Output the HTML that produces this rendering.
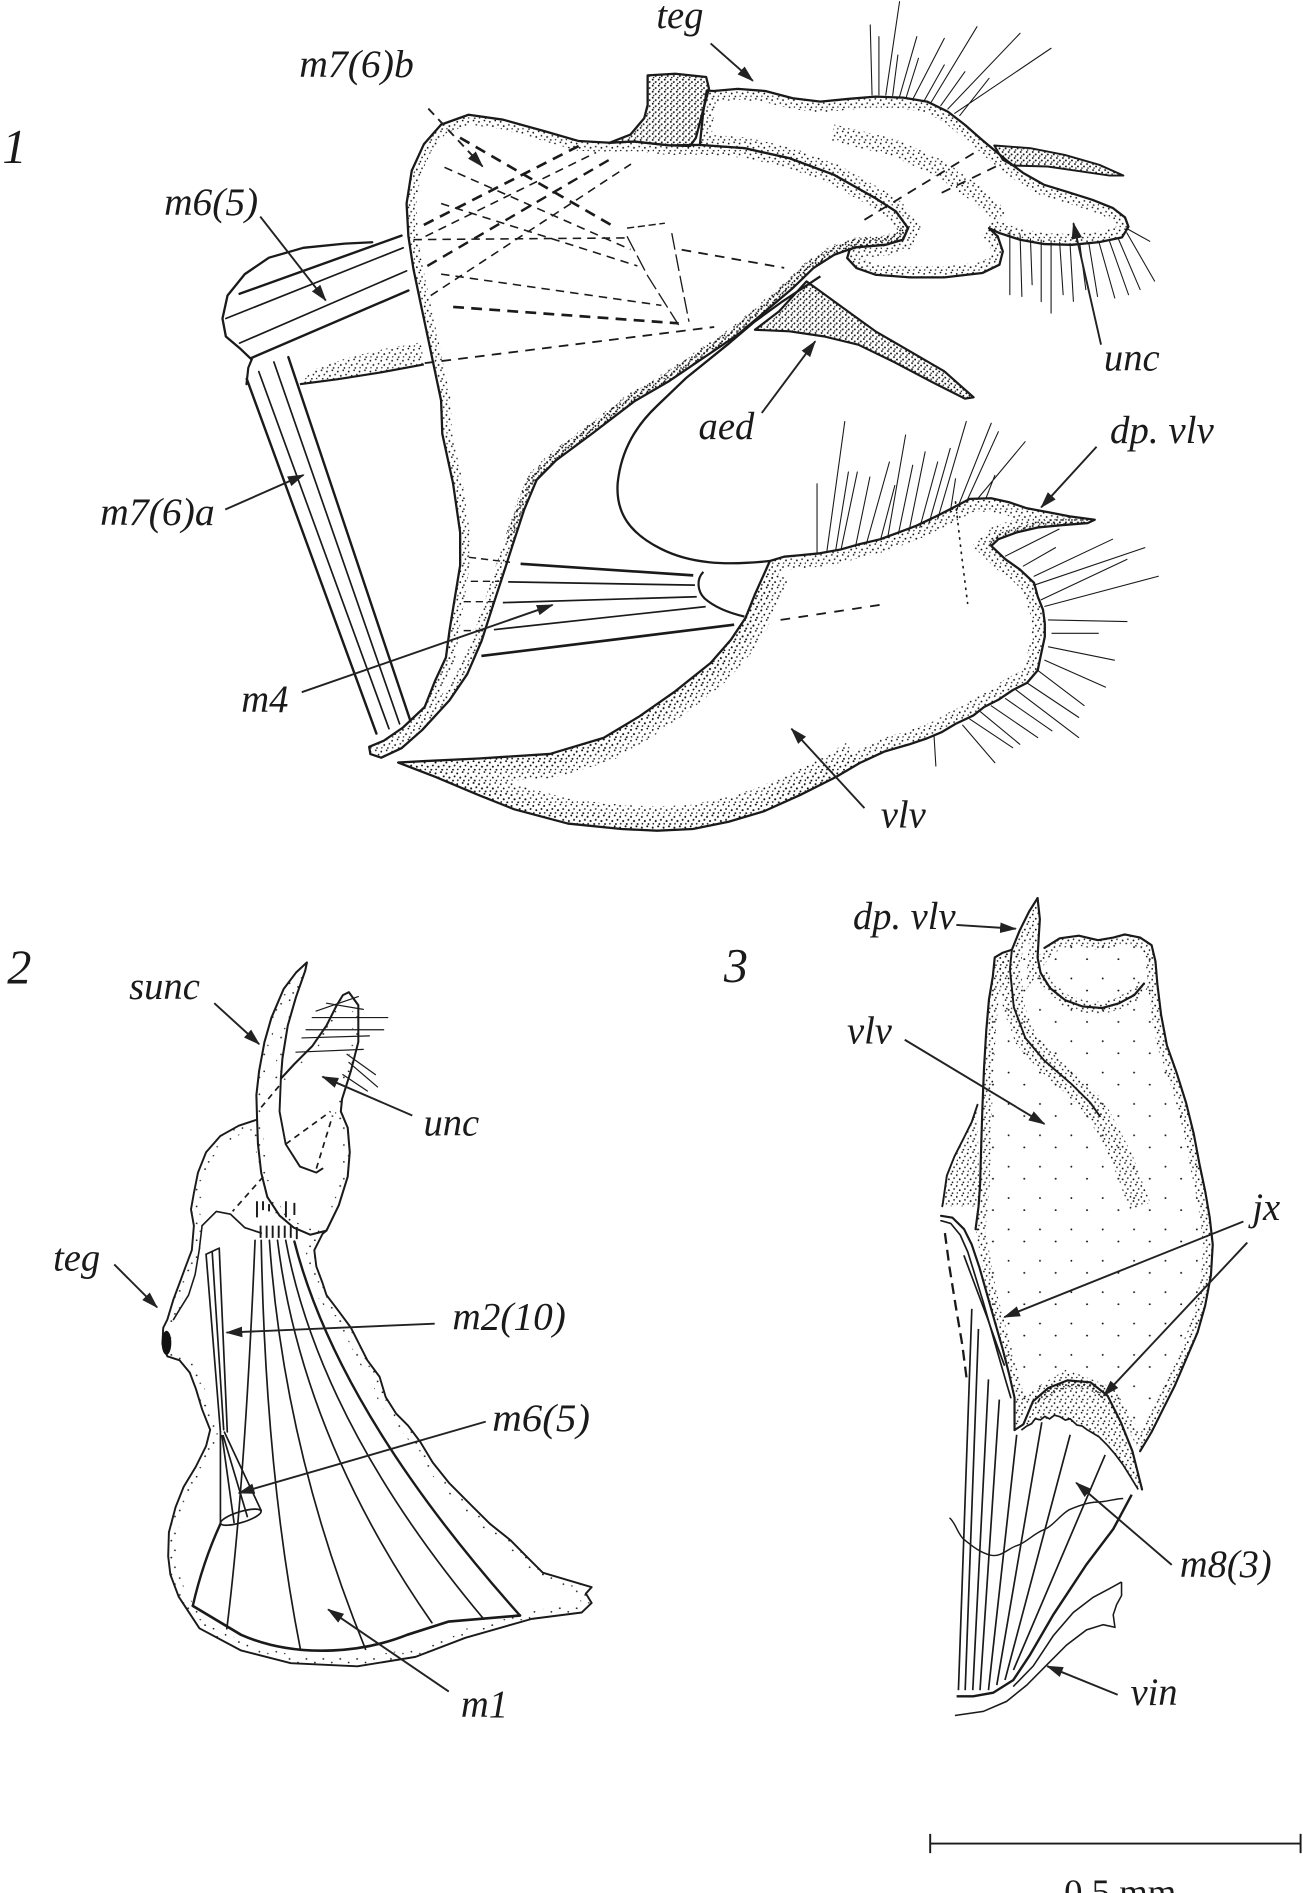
<!DOCTYPE html>
<html><head><meta charset="utf-8"><style>
html,body{margin:0;padding:0;background:#fff;}
svg{display:block;}
text{font-family:"Liberation Serif","DejaVu Serif",serif;font-style:italic;fill:#1a1a1a;}
</style></head><body>
<svg width="1303" height="1893" viewBox="0 0 1080 1569" preserveAspectRatio="none" xmlns="http://www.w3.org/2000/svg">
<defs>
<pattern id="st" width="9" height="9" patternUnits="userSpaceOnUse"><g fill="#111"><circle cx="1" cy="2" r=".75"/><circle cx="5.5" cy=".9" r=".7"/><circle cx="3.5" cy="5.5" r=".75"/><circle cx="7.8" cy="4.5" r=".7"/><circle cx="6.5" cy="8" r=".7"/><circle cx="1.5" cy="7.8" r=".6"/></g></pattern>
<pattern id="sd" width="5" height="5" patternUnits="userSpaceOnUse"><g fill="#111"><circle cx="1" cy="1" r=".8"/><circle cx="3.5" cy="3" r=".8"/><circle cx="1.8" cy="4.3" r=".6"/></g></pattern>
<pattern id="ss" width="14" height="14" patternUnits="userSpaceOnUse"><g fill="#111"><circle cx="2" cy="3" r=".75"/><circle cx="9" cy="6" r=".7"/><circle cx="5" cy="11" r=".7"/><circle cx="12" cy="12.5" r=".6"/></g></pattern>
<pattern id="sx" width="26" height="26" patternUnits="userSpaceOnUse"><g fill="#111"><circle cx="4" cy="5" r=".8"/><circle cx="17" cy="15" r=".8"/></g></pattern>
<marker id="ah" markerUnits="userSpaceOnUse" markerWidth="14" markerHeight="10" refX="13" refY="5" orient="auto" viewBox="0 0 14 10"><path d="M0,0.6 L14,5 L0,9.4 Z" fill="#222"/></marker>

<path id="scl" d="M365.6,103.3 L388.4,95.1 417,99.2 451.2,108.7 479.7,116.9 505.4,118.3 525.8,117.3 554.4,120.5 580.1,120.1 617.2,122.8 654.3,131.1 691.4,144.9 725.6,164.2 742.7,175.3 752.7,189.1 748.4,198.7 734.2,202.9 708.5,205.1 691.4,211.2 674.2,222.2 657.1,238.8 634.3,258.1 611.5,277.4 582.9,296.7 554.4,316 525.8,332.6 490.5,359.6 461,381.4 444.8,397.8 434.5,422.3 425.6,449.6 416.8,476.9 407.9,504.1 399.1,531.4 387.3,558.7 372.5,580.5 350,605 333,620 316,628 307,625 306,619 318,614 334,603 352,586 360.7,564.1 369.6,545 372.5,523.2 376.9,496 381.4,468.7 381.4,441.4 375.5,400.5 366.6,359.6 365.6,332 359.9,304.8 354.2,277.6 348.4,250.3 342.7,223.1 338.5,195.9 337,168.7 341.3,141.4 351.3,119.6 Z"/>
<clipPath id="cscl"><use href="#scl"/></clipPath>

<path id="teg" d="M591.5,75.4 L611.5,73.7 634.3,75.4 657.1,81.4 680,84.2 702.8,82 725.6,80.1 748.5,80.9 768.4,84.2 785.6,92.5 799.8,103.5 814.1,116 825.5,125.6 835.5,133.9 848.3,143.5 865.5,153.2 885.4,159.3 905.4,165.6 922.5,172.5 932.5,180.2 935.3,188 930,196.7 911.1,200.7 888.3,202.9 865.5,202.3 845.5,198.7 828.4,193.2 819.8,189.1 827,196 831.2,208.4 828.4,219.4 814.1,226.3 782.7,229.9 754.2,229.9 725.6,227.7 709.9,222.2 702.2,213.9 704.2,207 708.5,205.1 734.2,202.9 748.4,198.7 752.7,189.1 742.7,175.3 725.6,164.2 691.4,144.9 654.3,131.1 617.2,122.8 580.1,120.1 582.9,92.5 585.8,75 Z"/>
<clipPath id="cteg"><use href="#teg"/></clipPath>

<path id="knob" d="M505.4,118.3 L522.6,111.5 534,97.9 536.8,87 536.8,62.5 559.7,61.1 585.3,63.8 587.6,73.3 582.5,92.4 576.8,114.2 572,121 554.4,120.5 525.8,117.3 Z"/>
<path id="soc" d="M824.1,120.6 L854.1,122.8 882.6,128.4 911.1,136.6 931.1,145.5 919.7,145.5 896.9,142.2 868.3,138 839.8,137.2 831.2,132.5 Z"/>
<path id="aeds" d="M625.7,273.3 L645.7,258.1 668.5,233.2 680,241.5 702.8,258.1 725.6,274.6 754.2,291.2 782.7,307.8 807,329.3 799.8,330.4 771.3,316 739.9,299.5 711.4,285.7 682.8,278.8 654.3,274.6 Z"/>

<path id="vlv" d="M638.1,465 L649.9,461.4 661.8,460.3 679.5,458.6 697.3,455.3 712.1,451.1 729.8,446.9 744.6,441.4 759.4,435.8 774.2,428.8 789,421.3 803.8,413.5 821.6,413 836.4,416.3 851.2,421.3 869,424.6 886.7,428 907.4,430.8 901.5,433.6 880.8,435.2 860.1,437.2 842.3,441.4 827.5,446.9 821.6,452.5 833.4,463.6 845.3,472 857.1,483.1 860.1,494.3 864.5,505.4 866,516.6 866,527.7 863,541.7 860.1,555.6 851.2,566 839.4,572 827.5,580 815.7,586 806.8,593 792,600 780.2,607 768.3,612 753.5,617 732.8,623 712.8,632.3 692.7,644.1 663.1,659 633.5,672.3 603.9,681.1 574.3,687.1 544.7,688.5 515.1,687.1 470.7,682.6 426.3,670.8 396.7,659 361,644 330,632 352.3,630.8 396.7,628.7 455.9,624.9 500.3,611.6 529.9,593.8 559.5,573.1 589.1,549.4 606,530 618,512 626,492 635,472 Z"/>
<clipPath id="cvlv"><use href="#vlv"/></clipPath>

<path id="f2b" d="M213.1,928 L197.9,933 182.7,941.5 170.8,955 164.1,971.9 160.7,988.9 158.3,1002.4 160.7,1015.9 159,1036.2 153.9,1049.7 148.9,1063.3 143.8,1076.8 138.7,1093.7 135.3,1100.5 134.6,1114 138.7,1124.2 148.9,1127.5 157.3,1137.7 162.4,1151.2 167.5,1168.1 174.2,1185.1 170.8,1198.6 162.4,1215.5 152.2,1232.4 145.5,1249.3 140,1270 139.4,1289.9 141.2,1305 148.1,1323.4 165.3,1349.6 199.8,1368 241.1,1378.5 296.2,1381.1 344.4,1373.3 385.7,1357.5 440.8,1341.8 482.2,1336.5 490.4,1328.6 485.6,1320.8 490.4,1315.5 449.9,1303.5 436.4,1290 422.9,1276.4 406,1262.9 389,1246 372.1,1229 358.6,1212.1 348.4,1195.2 338.3,1181.7 328.2,1171.5 319.7,1158 314.6,1141.1 304.5,1127.5 297.7,1114 290.9,1100.5 280.8,1086.9 270.6,1073.4 267.3,1063.3 262.2,1049.7 260.5,1036.2 267.3,1022.7 270.6,1020"/>
<path id="f2bc" d="M213.1,928 L197.9,933 182.7,941.5 170.8,955 164.1,971.9 160.7,988.9 158.3,1002.4 160.7,1015.9 159,1036.2 153.9,1049.7 148.9,1063.3 143.8,1076.8 138.7,1093.7 135.3,1100.5 134.6,1114 138.7,1124.2 148.9,1127.5 157.3,1137.7 162.4,1151.2 167.5,1168.1 174.2,1185.1 170.8,1198.6 162.4,1215.5 152.2,1232.4 145.5,1249.3 140,1270 139.4,1289.9 141.2,1305 148.1,1323.4 165.3,1349.6 199.8,1368 241.1,1378.5 296.2,1381.1 344.4,1373.3 385.7,1357.5 440.8,1341.8 482.2,1336.5 490.4,1328.6 485.6,1320.8 490.4,1315.5 449.9,1303.5 436.4,1290 422.9,1276.4 406,1262.9 389,1246 372.1,1229 358.6,1212.1 348.4,1195.2 338.3,1181.7 328.2,1171.5 319.7,1158 314.6,1141.1 304.5,1127.5 297.7,1114 290.9,1100.5 280.8,1086.9 270.6,1073.4 267.3,1063.3 262.2,1049.7 260.5,1036.2 267.3,1022.7 270.6,1020 230,1000 Z"/>
<clipPath id="cf2b"><use href="#f2bc"/></clipPath>

<path id="f2u" d="M289.2,822.4 L297,833.2 297,863.7 290.9,887.4 283.5,911 282.5,921.2 288.2,934.7 289.9,955 288.2,975.3 280.8,999 270.6,1020 257.1,1023.4 243.6,1017.6 231.7,1007.5 221.6,992.2 216.5,972 213.8,948.2 213.1,928 212.5,907.7 214.8,887.4 219.2,863.7 225,843.4 235.1,819.7 245.3,806.2 254.4,797.7 253,804.5 245.3,826.5 238.5,850.1 234.1,877.2 232.8,894.1 243.6,882.3 258.8,867.1 270.6,850.1 279.1,833.2 284.2,824.8 Z"/>
<clipPath id="cf2u"><use href="#f2u"/></clipPath>

<path id="f3c" d="M860,744.4 L853,755.5 845.1,771.4 838.7,787.2 830.8,789.8 824.5,793.6 822.9,809.4 819.7,828.5 817.5,853.8 815.6,885.6 814.3,917.3 813.3,949 812.4,980.7 811.1,999.8 808.6,1018.8 818,1072 830,1117 840.9,1158 840.9,1185 856,1161 884.7,1144 918,1157 945,1202.8 954.5,1186.9 964,1167.9 973.6,1148.8 983.1,1126.6 992.6,1104.4 998.9,1082.2 1003.7,1056.9 1005.2,1031.5 1002.7,1009.3 998.9,987.1 994.2,964.9 989.4,939.5 983.1,914.1 975.1,888.7 967.2,866.5 962.4,841.2 959.3,815.8 957.7,796.8 954.5,783.4 945,777.1 932.3,774.5 922.8,777.1 910.1,779.3 894.2,775.5 878.4,777.7 865.7,785.7 860,793.6 860.9,777.7 861.9,761.9 Z"/>
<clipPath id="cf3"><use href="#f3c"/></clipPath>
<path id="f3bulge" d="M810.2,915.7 L805.4,930 799.1,942.7 791.1,958.5 784.8,974.4 781.6,996.6 781,999.8 L812,1000 Z"/>
<clipPath id="cf3b"><use href="#f3bulge"/></clipPath>
<path id="hump" d="M846.6,1185.3 L848.2,1180.6 856.2,1161.5 868.9,1150.4 884.7,1144.1 903.8,1145.7 918,1156.8 929.1,1179 938.6,1202.8 946.6,1234.5 L943.4,1234.5 930.7,1213.9 918,1198 905.3,1187.5 892.7,1181.2 878.4,1174.2 862.5,1176.8 Z"/>
<clipPath id="chump"><use href="#hump"/></clipPath>
</defs>

<rect width="1080" height="1569" fill="#fff"/>

<!-- ================= FIGURE 1 ================= -->
<g fill="none" stroke="#1a1a1a" stroke-linecap="round" stroke-linejoin="round">
 <path d="M208.6,298 L198.6,288.5 187.2,278.9 184.4,264 188.6,244.9 202.9,227.2 222.9,213.6 251.4,205.4 285.7,201.9 308.5,200.8" stroke-width="1.9"/>
 <path d="M198.6,243.5 L332.8,195.3" stroke-width="2"/>
 <path d="M187.2,264 L334.2,205.4" stroke-width="1.4"/>
 <path d="M198.6,284.4 L337,224.5" stroke-width="1.4"/>
 <path d="M208.6,296.6 L338.5,240.8" stroke-width="2"/>
 <path d="M208.6,298 L205.8,304.8 204.3,318.4" stroke-width="1.8"/>
 <path d="M204.5,314 L312,608" stroke-width="2"/>
 <path d="M214.5,308 L322.4,604" stroke-width="1.4"/>
 <path d="M227,300 L331.2,600" stroke-width="1.4"/>
 <path d="M239,296 L340,597" stroke-width="2"/>
</g>
<path d="M248.6,318.4 L280,314.3 314.2,308.9 351.3,302.1 349,284 320,289 290,296 260,306 Z" fill="url(#st)"/>
<path d="M248.6,318.4 L280,314.3 314.2,308.9 351.3,302.1" fill="none" stroke="#1a1a1a" stroke-width="1.8"/>

<use href="#scl" fill="#fff"/>
<g clip-path="url(#cscl)">
 <use href="#scl" fill="none" stroke="url(#st)" stroke-width="16"/>
 <path d="M752.7,189.1 L748.4,198.7 734.2,202.9 708.5,205.1 691.4,211.2 674.2,222.2 657.1,238.8 634.3,258.1 611.5,277.4 582.9,296.7 554.4,316 525.8,332.6 490.5,359.6 461,381.4 444.8,397.8 434.5,422.3 425.6,449.6" fill="none" stroke="url(#sd)" stroke-width="14"/>
</g>
<use href="#scl" fill="none" stroke="#1a1a1a" stroke-width="1.9" stroke-linejoin="round"/>

<use href="#teg" fill="#fff"/>
<g clip-path="url(#cteg)"><use href="#teg" fill="none" stroke="url(#st)" stroke-width="18"/></g>
<path d="M690,110 L740,122 780,140 808,160 830,180" fill="none" stroke="url(#st)" stroke-width="14" clip-path="url(#cteg)"/>
<use href="#teg" fill="none" stroke="#1a1a1a" stroke-width="1.9" stroke-linejoin="round"/>
<use href="#knob" fill="url(#sd)" stroke="#1a1a1a" stroke-width="1.9" stroke-linejoin="round"/>
<use href="#soc" fill="url(#sd)" stroke="#1a1a1a" stroke-width="1.6" stroke-linejoin="round"/>
<g fill="none" stroke="#1a1a1a" stroke-width="1.5" stroke-dasharray="8 6">
 <path d="M807,127 L714.2,183.6"/>
 <path d="M825.5,138 L777,161.5"/>
</g>

<g fill="none" stroke="#1a1a1a" stroke-linecap="butt">
 <path d="M381.3,114.2 L511.1,189.1" stroke-width="2.2" stroke-dasharray="9 6"/>
 <path d="M368.4,138.7 L522.6,206.8" stroke-width="1.3" stroke-dasharray="7 5"/>
 <path d="M365.6,168.7 L528.3,220.4" stroke-width="1.3" stroke-dasharray="7 5"/>
 <path d="M342.7,198.6 L519.7,197.2" stroke-width="1.3" stroke-dasharray="7 5"/>
 <path d="M365.6,227.2 L548.2,253.1" stroke-width="1.3" stroke-dasharray="7 5"/>
 <path d="M375.6,254.4 L562.5,268" stroke-width="2.2" stroke-dasharray="9 6"/>
 <path d="M352,301 L592,271" stroke-width="1.5" stroke-dasharray="8 6"/>
 <path d="M351.3,186.4 L479.7,121" stroke-width="2.2" stroke-dasharray="9 6"/>
 <path d="M352.7,195.9 L494,126.4" stroke-width="1.3" stroke-dasharray="7 5"/>
 <path d="M354.2,220.4 L508.3,130.5" stroke-width="2" stroke-dasharray="9 6"/>
 <path d="M357,245 L523,136" stroke-width="1.3" stroke-dasharray="7 5"/>
 <path d="M519.7,189.1 L551.1,185" stroke-width="1.2" stroke-dasharray="6 3"/>
 <path d="M519.7,195.9 L536.8,228.6 562.5,269.4" stroke-width="1.1" stroke-dasharray="14 4"/>
 <path d="M556.8,193.2 L562.5,223.1 571.1,266.7" stroke-width="1.1" stroke-dasharray="14 4"/>
 <path d="M565,207 L650,222" stroke-width="1.5" stroke-dasharray="8 6"/>
</g>

<path d="M680,229 L648.6,249.8 625.7,266.4 602.9,285.7 568.7,313.3 545,336 C528,352 515,372 512,400 C510,425 522,442 548,455 C572,467 600,469 638,465" fill="none" stroke="#1a1a1a" stroke-width="1.9"/>
<use href="#aeds" fill="url(#sd)" stroke="#1a1a1a" stroke-width="1.8" stroke-linejoin="round"/>

<use href="#vlv" fill="#fff"/>
<g clip-path="url(#cvlv)">
 <use href="#vlv" fill="none" stroke="url(#st)" stroke-width="22"/>
 <path d="M712.8,632.3 L692.7,644.1 663.1,659 633.5,672.3 603.9,681.1 574.3,687.1 544.7,688.5 515.1,687.1 470.7,682.6 426.3,670.8 396.7,659 361,644 330,632 352.3,630.8 396.7,628.7 455.9,624.9 500.3,611.6 529.9,593.8 559.5,573.1 589.1,549.4 606,530 618,512 626,492 635,472" fill="none" stroke="url(#st)" stroke-width="40"/>
 <path d="M907,431 L860,437 828,447 822,453" fill="none" stroke="url(#sd)" stroke-width="10"/>
</g>
<use href="#vlv" fill="none" stroke="#1a1a1a" stroke-width="1.9" stroke-linejoin="round"/>
<path d="M647,513.8 L729.8,501.3" fill="none" stroke="#1a1a1a" stroke-width="1.5" stroke-dasharray="8 7"/>
<path d="M792,416 L797,460 802,500" fill="none" stroke="#1a1a1a" stroke-width="1.4" stroke-dasharray="1 5" stroke-linecap="round"/>

<path d="M583,474 C577,480 578,490 584,496 C592,503 604,508 617,511" fill="none" stroke="#1a1a1a" stroke-width="1.8"/>

<g fill="none" stroke="#1a1a1a">
 <path d="M431.5,467.3 L574.6,476.9" stroke-width="2.2"/>
 <path d="M421.2,482.3 L576,485" stroke-width="1.4"/>
 <path d="M416.8,499.5 L577.5,494.6" stroke-width="1.4"/>
 <path d="M409.4,521.9 L584.9,502.8" stroke-width="1.4"/>
 <path d="M399,543.7 L608.5,517.8" stroke-width="2.2"/>
 <g stroke-width="1.2" stroke-dasharray="6 4">
  <path d="M388.7,461.9 L422.7,466"/>
  <path d="M390.2,481.8 L413.8,481.8"/>
  <path d="M384.3,498.7 L410.9,498.7"/>
  <path d="M384.3,522.7 L402,522.7"/>
 </g>
</g>

<g fill="none" stroke="#1a1a1a" stroke-width="0.9" stroke-linecap="round">
 <path d="M722.8,78.7 L721.3,20.7 M728.5,78.7 L728.5,30.4 M734.2,78.7 L745.6,1.4 M739.9,79.2 L744.2,45.6 M745.6,80.1 L759.9,30.4 M751.3,80.1 L761.3,48.3 M757,81.4 L782.7,31.8 M765.6,84.2 L782.7,53.8 M771.3,85.6 L809.8,22.1 M779.8,87.5 L799.8,59.4 M785.6,90.3 L845.5,27.6 M791.3,93.9 L871.2,40 M795.5,95.8 L819.8,64.9"/>
 <path d="M837,191.8 L837,244.3 M845.5,194.6 L847,245.7 M854.1,197.9 L855.5,236 M863,199 L863,250 M871.2,199.6 L871.2,259.5 M878.3,200.7 L881.2,244.3 M886.9,201.8 L889.7,249.8 M895,202 L900,240 M902.6,202.3 L909.7,245.7 M911.1,201.5 L924,247 M919.7,200.1 L935.4,244.3 M927,198 L945,240 M934,193 L957,233 M935,190 L953,200"/>
 <path d="M677.2,458.1 L677.2,401 M685.4,456.7 L700.2,349.4 M692.8,455.3 L703.2,391.2 M697.3,454.5 L710.6,391.2 M709.1,453.1 L721,395.4 M718,451.1 L737.2,382.9 M729.8,447.5 L741.7,402.4 M735.8,445.5 L750.6,360.6 M744.6,442.7 L756.5,385.6 M753.5,440 L766.8,374.5 M762.4,437.2 L777.2,382.9 M769.8,434.4 L787.6,371.7 M777.2,430.2 L800.9,349.4 M787.6,424.6 L792,396.8 M793.5,421.3 L821.6,350.8 M800.9,416.3 L827.5,357.8 M809.8,414 L849.7,366.1 M817.2,413 L824.6,394"/>
 <path d="M833.4,460.9 L877.8,438.6 M848.2,469.2 L874.9,453.9 M857.1,477.6 L922.2,446.9 M858.6,484.5 L948.9,453.9 M863,497.1 L934.1,463.6 M866,502.6 L960.1,477.6 M869,513.8 L934.1,515.2 M871.9,524.9 L910.4,524.9 M869,536.1 L923.7,547.2 M866,547.2 L916.3,569.5 M860.1,555.6 L898.6,584.8 M851.2,566 L894.1,594.6 M842.3,572 L894.1,611.3 M833.4,579 L871.9,605.7 M821.6,585 L860.1,611.3 M812.7,590 L845.3,616.9 M803.8,596 L839.4,619.7 M797.9,601 L824.6,632.2 M774.2,610 L775.7,635"/>
</g>

<g fill="none" stroke="#222" stroke-width="1.6">
 <path d="M589,36 L624,67" marker-end="url(#ah)"/>
 <path d="M355,90 L400,138" stroke-dasharray="7 5" marker-end="url(#ah)"/>
 <path d="M215.7,179.5 L270,249" marker-end="url(#ah)"/>
 <path d="M186.7,422.3 L251.6,393.7" marker-end="url(#ah)"/>
 <path d="M250.1,573.7 L458,501.4" marker-end="url(#ah)"/>
 <path d="M631.4,342.3 L675.7,282.9" marker-end="url(#ah)"/>
 <path d="M912.6,285.7 L889.7,185" marker-end="url(#ah)"/>
 <path d="M908.9,370.3 L863,420.5" marker-end="url(#ah)"/>
 <path d="M716.5,669.8 L656,604" marker-end="url(#ah)"/>
</g>
<text x="2" y="135" font-size="40">1</text>
<text x="544" y="23" font-size="32">teg</text>
<text x="248" y="64" font-size="32" textLength="95" lengthAdjust="spacingAndGlyphs">m7(6)b</text>
<text x="136" y="178" font-size="32" textLength="78" lengthAdjust="spacingAndGlyphs">m6(5)</text>
<text x="83" y="435" font-size="32" textLength="95" lengthAdjust="spacingAndGlyphs">m7(6)a</text>
<text x="200" y="590" font-size="32">m4</text>
<text x="579" y="364" font-size="32">aed</text>
<text x="915" y="307" font-size="32">unc</text>
<text x="920" y="367" font-size="32" textLength="86" lengthAdjust="spacingAndGlyphs">dp. vlv</text>
<text x="730" y="686" font-size="32">vlv</text>

<!-- ================= FIGURE 2 ================= -->
<use href="#f2bc" fill="#fff"/>
<g clip-path="url(#cf2b)"><use href="#f2bc" fill="none" stroke="url(#ss)" stroke-width="14"/></g>
<use href="#f2b" fill="none" stroke="#1a1a1a" stroke-width="1.6" stroke-linejoin="round"/>
<ellipse cx="138" cy="1113" rx="4" ry="10" fill="#111"/>
<use href="#f2u" fill="#fff"/>
<g clip-path="url(#cf2u)"><use href="#f2u" fill="none" stroke="url(#ss)" stroke-width="10"/></g>
<use href="#f2u" fill="none" stroke="#1a1a1a" stroke-width="1.7" stroke-linejoin="round"/>
<g fill="none" stroke="#1a1a1a" stroke-linecap="round" stroke-linejoin="round">
 <path d="M232.8,894.1 L231.7,921.2 236.8,948.3 248.6,966.9 262.2,971.9 267.3,968.6" stroke-width="1.6"/>
 <path d="M167.5,1015.9 L179.3,1004.1 191.1,1006.4 203,1017.6 216.5,1022" stroke-width="1.4"/>
 <path d="M167.5,1015.9 L165.1,1036.2 161.7,1056.5 156.3,1073.4 148.9,1085.3 143.8,1093.7" stroke-width="1.3"/>
 <g stroke-width="1.4" stroke-dasharray="5 4" stroke-linecap="butt">
  <path d="M216.5,917.8 L233.5,897.5"/>
  <path d="M236.8,948.3 L274,921.2"/>
  <path d="M262.2,968.6 L275.7,924.6"/>
  <path d="M218.2,975.3 L192.8,1004"/>
 </g>
 <g stroke-width="1.6" stroke-linecap="butt">
  <path d="M213,995.6 V1009 M218,995.6 V1003 M223,998 V1004 M237,995.6 V1009 M244,997 V1007"/>
  <path d="M216,1015.9 V1026 M221,1015.9 V1026 M226,1015.9 V1026 M231,1015.9 V1026 M236,1015.9 V1026 M241,1016 V1026 M246,1017 V1027"/>
 </g>
 <g stroke-width="1">
  <path d="M270.6,831.5 L301.1,836.6 M258.8,843.4 L321.4,843.4 M253.7,853.5 L318,853.5 M250.3,860.3 L306.2,858.6 M245.3,872.1 L301.1,869.8 M287.6,873.8 L311.2,890.7 M289.2,880.6 L312.9,900.9 M284.2,890.7 L304.5,904.3 M262,838 L297,826"/>
 </g>
 <path d="M170.8,1039.6 L182.7,1186.8 M181.7,1034.5 L188.4,1186.8 M175.9,1037.9 L185.4,1185 M170.8,1039.6 L181.7,1034.5" stroke-width="1.4"/>
 <path d="M182.7,1186.8 L182.7,1262.9 M186,1187 L216.5,1252.1 M184,1190 L194,1262 M185,1190 L205,1257" stroke-width="1.4"/>
 <ellipse cx="199.6" cy="1257.5" rx="17.5" ry="4.5" transform="rotate(-17 199.6 1257.5)" stroke-width="1.4"/>
 <path d="M211.4,1028 Q203,1230 188,1350" stroke-width="1.4"/>
 <path d="M216.5,1028 Q220,1220 249,1367" stroke-width="1.4"/>
 <path d="M223.3,1028 Q235,1200 303,1367" stroke-width="1.4"/>
 <path d="M230,1028 Q250,1190 358,1345" stroke-width="1.4"/>
 <path d="M236.8,1028 Q265,1180 401,1342" stroke-width="1.4"/>
 <path d="M244,1029 Q280,1170 431,1339" stroke-width="2"/>
 <path d="M159.8,1331 Q168,1295 182.7,1263" stroke-width="2"/>
 <path d="M159.8,1331 L199.8,1355 C225,1366 250,1369 275,1368 C300,1367 320,1362 337.5,1355 L372,1344 L431,1339" stroke-width="2.2"/>
</g>
<g fill="none" stroke="#222" stroke-width="1.6">
 <path d="M177.6,831.5 L214.8,865.4" marker-end="url(#ah)"/>
 <path d="M341.7,924.6 L267.3,892.4" marker-end="url(#ah)"/>
 <path d="M94.7,1048 L130.2,1083.6" marker-end="url(#ah)"/>
 <path d="M360.3,1097.1 L187.8,1104.5" marker-end="url(#ah)"/>
 <path d="M402.6,1178.3 L197.9,1237.5" marker-end="url(#ah)"/>
 <path d="M372,1402 L272,1334" marker-end="url(#ah)"/>
</g>
<text x="6" y="815" font-size="40">2</text>
<text x="107" y="828" font-size="32">sunc</text>
<text x="351" y="941" font-size="32">unc</text>
<text x="44" y="1053" font-size="32">teg</text>
<text x="375" y="1102" font-size="32" textLength="94" lengthAdjust="spacingAndGlyphs">m2(10)</text>
<text x="408" y="1186" font-size="32" textLength="81" lengthAdjust="spacingAndGlyphs">m6(5)</text>
<text x="382" y="1423" font-size="32">m1</text>

<!-- ================= FIGURE 3 ================= -->
<use href="#f3c" fill="#fff"/>
<g clip-path="url(#cf3)">
 <rect x="800" y="770" width="220" height="470" fill="url(#sx)"/>
 <use href="#f3c" fill="none" stroke="url(#st)" stroke-width="16"/>
 <path d="M838.7,787.2 L837.1,803.1 840.3,834.8 849.8,860.2 865.7,879.2 887.9,898.3 903.8,914.1 911.7,925.2 930,960 945,1000" fill="none" stroke="url(#st)" stroke-width="18"/>
 <path d="M862.5,806.3 L870.4,819 883.1,829.1 897.4,834.2 913.3,835.5 927.5,831.6 940.2,824.7 948.2,815.2" fill="none" stroke="url(#st)" stroke-width="10"/>
</g>
<g clip-path="url(#cf3b)"><use href="#f3bulge" fill="url(#st)"/></g>
<g fill="none" stroke="#1a1a1a" stroke-width="1.8" stroke-linejoin="round" stroke-linecap="round">
 <path d="M860,744.4 L853,755.5 845.1,771.4 838.7,787.2 830.8,789.8 824.5,793.6 822.9,809.4 819.7,828.5 817.5,853.8 815.6,885.6 814.3,917.3 813.3,949 812.4,980.7 811.1,999.8 808.6,1018.8"/>
 <path d="M865.7,785.7 L878.4,777.7 894.2,775.5 910.1,779.3 922.8,777.1 932.3,774.5 945,777.1 954.5,783.4 957.7,796.8 959.3,815.8 962.4,841.2 967.2,866.5 975.1,888.7 983.1,914.1 989.4,939.5 994.2,964.9 998.9,987.1 1002.7,1009.3 1005.2,1031.5 1003.7,1056.9 998.9,1082.2 992.6,1104.4 983.1,1126.6 973.6,1148.8 964,1167.9 954.5,1186.9 945,1202.8"/>
 <path d="M860,744.4 L861.9,761.9 860.9,777.7 860,793.6 862.5,806.3 870.4,819 883.1,829.1 897.4,834.2 913.3,835.5 927.5,831.6 940.2,824.7 948.2,815.2"/>
 <path d="M838.7,787.2 L837.1,803.1 840.3,834.8 849.8,860.2 865.7,879.2 887.9,898.3 903.8,914.1 911.7,925.2" stroke-width="1.6"/>
 <path d="M810.2,915.7 L805.4,930 799.1,942.7 791.1,958.5 784.8,974.4 781.6,996.6 781,999.8" stroke-width="1.6"/>
 <path d="M780,1007.7 L789.5,1009.3 799.1,1018.8 805.4,1031.5 811.8,1050.5 818.1,1072.7 824.4,1094.9 830.8,1117.1 836.5,1139.3 840.9,1158.4 840.9,1185.3 848.2,1180.6 856.2,1161.5 868.9,1150.4 884.7,1144.1 903.8,1145.7 918,1156.8 929.1,1179 938.6,1202.8 946.6,1234.5"/>
 <path d="M780,1011.8 L788,1014 795.9,1023.6 802.2,1037.8 808.6,1058.4 814.9,1079 821.3,1101.3 827.6,1123.5 834,1145.7 837.8,1158.4" stroke-width="1.4"/>
 <path d="M799.1,1041 L808.6,1066.4 818.1,1091.7 826,1113.9 832.4,1131.4" stroke-width="1.4"/>
</g>
<use href="#hump" fill="url(#st)"/>
<g clip-path="url(#chump)"><path d="M856,1162 L869,1151 885,1145 904,1146 918,1157" fill="none" stroke="url(#sd)" stroke-width="10"/></g>
<path d="M846.6,1185.3 L851,1182 855,1180 858,1176 862.5,1176.8 866,1174 870,1176 874,1173 878.4,1174.2 883,1177 887,1176 892.7,1181.2 897,1182 901,1185 905.3,1187.5 911,1191 918,1198 924,1205 930.7,1213.9 937,1224 943.4,1234.5" fill="none" stroke="#1a1a1a" stroke-width="1.4"/>
<path d="M783.2,1022 L787,1050.5 792.1,1082.2 797.5,1114 801.6,1145.7" fill="none" stroke="#1a1a1a" stroke-width="1.9" stroke-dasharray="9 5"/>
<g fill="none" stroke="#1a1a1a" stroke-width="1.4">
 <path d="M805.5,1084.8 L794.4,1400.9 M811,1101.5 L800,1400.9 M819.3,1143.3 L806.3,1400.9 M828.3,1160 L812.3,1400.9 M842.7,1189.2 L819.3,1400.9 M863.5,1178.8 L826.2,1396.7 M887,1189.2 L833,1392.5 M916,1205.9 L840,1384.2"/>
 <path d="M938,1238.9 L922.7,1267.4 900.6,1296.6 873,1338.4 853.6,1371.8 839.8,1392.6 823.2,1403 806.6,1406 792.9,1406" stroke-width="2"/>
 <path d="M787,1258 C792,1262 794,1272 799,1276 S812,1287 821,1289 S836,1283 843,1281 S857,1271 865,1268 S880,1254 887,1251 S902,1245 909,1245 S925,1242 931,1242" stroke-width="1.2"/>
 <path d="M839.8,1397.9 L856.4,1380.9 873,1355.8 889.6,1336.5 906.1,1323.9 919.9,1316.6 929.6,1311.2" stroke-width="1.3"/>
 <path d="M791.5,1421.9 L815,1418.5 834.3,1410.2 850.9,1396.8 867.5,1380.1 884.1,1363.4 900.6,1350.9 914.4,1346.6 924.1,1348.7 922.7,1338.4 925.5,1330 929.6,1322.5 929.6,1311.2" stroke-width="1.3"/>
</g>
<g fill="none" stroke="#222" stroke-width="1.6">
 <path d="M792.7,766.6 L841.9,769.8" marker-end="url(#ah)"/>
 <path d="M749.9,861.8 L865.7,931.6" marker-end="url(#ah)"/>
 <path d="M1030.6,1012.4 L832.4,1091.7" marker-end="url(#ah)"/>
 <path d="M1033.8,1029.9 L914.8,1156.8" marker-end="url(#ah)"/>
 <path d="M971.2,1297 L892,1229" marker-end="url(#ah)"/>
 <path d="M926.4,1404.7 L868,1381" marker-end="url(#ah)"/>
</g>
<text x="600" y="814" font-size="40">3</text>
<text x="707" y="770" font-size="32" textLength="85" lengthAdjust="spacingAndGlyphs">dp. vlv</text>
<text x="702" y="865" font-size="32">vlv</text>
<text x="1038" y="1011" font-size="32">jx</text>
<text x="978" y="1307" font-size="32" textLength="76" lengthAdjust="spacingAndGlyphs">m8(3)</text>
<text x="937" y="1413" font-size="32">vin</text>

<g stroke="#1a1a1a" stroke-width="1.6" fill="none">
 <path d="M771,1528 L1078,1528 M771,1520 L771,1536 M1078,1520 L1078,1536"/>
</g>
<text x="882" y="1578" font-size="30" style="font-style:normal" textLength="93" lengthAdjust="spacingAndGlyphs">0.5 mm</text>
</svg>
</body></html>
